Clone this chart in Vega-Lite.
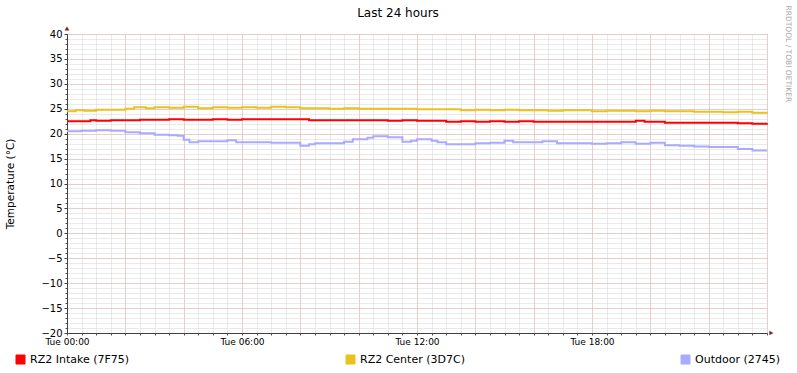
{
  "$schema": "https://vega.github.io/schema/vega-lite/v6.json",
  "width": 700,
  "height": 299,
  "autosize": {"type": "none"},
  "padding": {"left": 67, "top": 34, "right": 30, "bottom": 40},
  "background": "#ffffff",
  "config": {"font": "DejaVu Sans", "view": {"stroke": null}},
  "title": {"text": "Last 24 hours", "fontSize": 12, "fontWeight": "normal", "color": "#000000", "anchor": "middle", "dx": -19, "offset": -15},
  "datasets": {
    "temps": [
      {"h": 0, "s": "RZ2 Intake (7F75)", "v": 22.5},
      {"h": 0.8, "s": "RZ2 Intake (7F75)", "v": 22.7},
      {"h": 1.0, "s": "RZ2 Intake (7F75)", "v": 22.6},
      {"h": 1.5, "s": "RZ2 Intake (7F75)", "v": 22.7},
      {"h": 2.5, "s": "RZ2 Intake (7F75)", "v": 22.8},
      {"h": 3.5, "s": "RZ2 Intake (7F75)", "v": 22.9},
      {"h": 4.0, "s": "RZ2 Intake (7F75)", "v": 22.8},
      {"h": 5.0, "s": "RZ2 Intake (7F75)", "v": 22.9},
      {"h": 5.5, "s": "RZ2 Intake (7F75)", "v": 22.8},
      {"h": 6.0, "s": "RZ2 Intake (7F75)", "v": 22.9},
      {"h": 8.3, "s": "RZ2 Intake (7F75)", "v": 22.7},
      {"h": 11.0, "s": "RZ2 Intake (7F75)", "v": 22.6},
      {"h": 11.5, "s": "RZ2 Intake (7F75)", "v": 22.7},
      {"h": 12.0, "s": "RZ2 Intake (7F75)", "v": 22.6},
      {"h": 13.0, "s": "RZ2 Intake (7F75)", "v": 22.4},
      {"h": 13.5, "s": "RZ2 Intake (7F75)", "v": 22.5},
      {"h": 14.0, "s": "RZ2 Intake (7F75)", "v": 22.4},
      {"h": 14.5, "s": "RZ2 Intake (7F75)", "v": 22.5},
      {"h": 15.0, "s": "RZ2 Intake (7F75)", "v": 22.4},
      {"h": 15.5, "s": "RZ2 Intake (7F75)", "v": 22.5},
      {"h": 16.0, "s": "RZ2 Intake (7F75)", "v": 22.4},
      {"h": 19.5, "s": "RZ2 Intake (7F75)", "v": 22.6},
      {"h": 19.8, "s": "RZ2 Intake (7F75)", "v": 22.4},
      {"h": 20.5, "s": "RZ2 Intake (7F75)", "v": 22.2},
      {"h": 23.0, "s": "RZ2 Intake (7F75)", "v": 22.1},
      {"h": 23.5, "s": "RZ2 Intake (7F75)", "v": 22.0},
      {"h": 24.0, "s": "RZ2 Intake (7F75)", "v": 22.1},
      {"h": 0, "s": "RZ2 Center (3D7C)", "v": 24.5},
      {"h": 0.3, "s": "RZ2 Center (3D7C)", "v": 24.7},
      {"h": 0.6, "s": "RZ2 Center (3D7C)", "v": 24.6},
      {"h": 1.0, "s": "RZ2 Center (3D7C)", "v": 24.8},
      {"h": 2.0, "s": "RZ2 Center (3D7C)", "v": 25.0},
      {"h": 2.3, "s": "RZ2 Center (3D7C)", "v": 25.3},
      {"h": 2.7, "s": "RZ2 Center (3D7C)", "v": 25.1},
      {"h": 3.0, "s": "RZ2 Center (3D7C)", "v": 25.3},
      {"h": 3.5, "s": "RZ2 Center (3D7C)", "v": 25.2},
      {"h": 4.0, "s": "RZ2 Center (3D7C)", "v": 25.4},
      {"h": 4.5, "s": "RZ2 Center (3D7C)", "v": 25.1},
      {"h": 5.0, "s": "RZ2 Center (3D7C)", "v": 25.3},
      {"h": 5.5, "s": "RZ2 Center (3D7C)", "v": 25.2},
      {"h": 6.0, "s": "RZ2 Center (3D7C)", "v": 25.3},
      {"h": 6.5, "s": "RZ2 Center (3D7C)", "v": 25.2},
      {"h": 7.0, "s": "RZ2 Center (3D7C)", "v": 25.4},
      {"h": 7.5, "s": "RZ2 Center (3D7C)", "v": 25.3},
      {"h": 8.0, "s": "RZ2 Center (3D7C)", "v": 25.1},
      {"h": 9.0, "s": "RZ2 Center (3D7C)", "v": 25.0},
      {"h": 9.5, "s": "RZ2 Center (3D7C)", "v": 25.1},
      {"h": 10.0, "s": "RZ2 Center (3D7C)", "v": 25.0},
      {"h": 12.0, "s": "RZ2 Center (3D7C)", "v": 24.9},
      {"h": 13.5, "s": "RZ2 Center (3D7C)", "v": 24.7},
      {"h": 14.0, "s": "RZ2 Center (3D7C)", "v": 24.8},
      {"h": 14.5, "s": "RZ2 Center (3D7C)", "v": 24.7},
      {"h": 15.0, "s": "RZ2 Center (3D7C)", "v": 24.8},
      {"h": 15.5, "s": "RZ2 Center (3D7C)", "v": 24.7},
      {"h": 16.5, "s": "RZ2 Center (3D7C)", "v": 24.6},
      {"h": 17.0, "s": "RZ2 Center (3D7C)", "v": 24.7},
      {"h": 18.0, "s": "RZ2 Center (3D7C)", "v": 24.5},
      {"h": 18.5, "s": "RZ2 Center (3D7C)", "v": 24.6},
      {"h": 19.5, "s": "RZ2 Center (3D7C)", "v": 24.5},
      {"h": 20.0, "s": "RZ2 Center (3D7C)", "v": 24.6},
      {"h": 20.5, "s": "RZ2 Center (3D7C)", "v": 24.5},
      {"h": 21.5, "s": "RZ2 Center (3D7C)", "v": 24.4},
      {"h": 22.5, "s": "RZ2 Center (3D7C)", "v": 24.3},
      {"h": 23.0, "s": "RZ2 Center (3D7C)", "v": 24.4},
      {"h": 23.5, "s": "RZ2 Center (3D7C)", "v": 24.2},
      {"h": 24.0, "s": "RZ2 Center (3D7C)", "v": 24.3},
      {"h": 0, "s": "Outdoor (2745)", "v": 20.5},
      {"h": 0.5, "s": "Outdoor (2745)", "v": 20.6},
      {"h": 1.0, "s": "Outdoor (2745)", "v": 20.7},
      {"h": 1.5, "s": "Outdoor (2745)", "v": 20.6},
      {"h": 2.0, "s": "Outdoor (2745)", "v": 20.3},
      {"h": 2.5, "s": "Outdoor (2745)", "v": 20.1},
      {"h": 3.0, "s": "Outdoor (2745)", "v": 19.8},
      {"h": 3.5, "s": "Outdoor (2745)", "v": 19.7},
      {"h": 3.8, "s": "Outdoor (2745)", "v": 19.6},
      {"h": 4.0, "s": "Outdoor (2745)", "v": 18.8},
      {"h": 4.2, "s": "Outdoor (2745)", "v": 18.3},
      {"h": 4.5, "s": "Outdoor (2745)", "v": 18.5},
      {"h": 5.5, "s": "Outdoor (2745)", "v": 18.7},
      {"h": 5.8, "s": "Outdoor (2745)", "v": 18.3},
      {"h": 7.0, "s": "Outdoor (2745)", "v": 18.2},
      {"h": 8.0, "s": "Outdoor (2745)", "v": 17.6},
      {"h": 8.3, "s": "Outdoor (2745)", "v": 17.9},
      {"h": 8.5, "s": "Outdoor (2745)", "v": 18.1},
      {"h": 9.5, "s": "Outdoor (2745)", "v": 18.4},
      {"h": 9.8, "s": "Outdoor (2745)", "v": 18.9},
      {"h": 10.3, "s": "Outdoor (2745)", "v": 19.2},
      {"h": 10.5, "s": "Outdoor (2745)", "v": 19.5},
      {"h": 11.0, "s": "Outdoor (2745)", "v": 19.3},
      {"h": 11.5, "s": "Outdoor (2745)", "v": 18.4},
      {"h": 11.8, "s": "Outdoor (2745)", "v": 18.6},
      {"h": 12.0, "s": "Outdoor (2745)", "v": 18.9},
      {"h": 12.5, "s": "Outdoor (2745)", "v": 18.6},
      {"h": 12.7, "s": "Outdoor (2745)", "v": 18.3},
      {"h": 13.0, "s": "Outdoor (2745)", "v": 17.9},
      {"h": 14.0, "s": "Outdoor (2745)", "v": 18.1},
      {"h": 14.5, "s": "Outdoor (2745)", "v": 18.2},
      {"h": 15.0, "s": "Outdoor (2745)", "v": 18.6},
      {"h": 15.3, "s": "Outdoor (2745)", "v": 18.3},
      {"h": 16.3, "s": "Outdoor (2745)", "v": 18.5},
      {"h": 16.8, "s": "Outdoor (2745)", "v": 18.1},
      {"h": 18.0, "s": "Outdoor (2745)", "v": 18.0},
      {"h": 18.5, "s": "Outdoor (2745)", "v": 18.1},
      {"h": 19.0, "s": "Outdoor (2745)", "v": 18.3},
      {"h": 19.5, "s": "Outdoor (2745)", "v": 18.0},
      {"h": 20.0, "s": "Outdoor (2745)", "v": 18.2},
      {"h": 20.5, "s": "Outdoor (2745)", "v": 17.7},
      {"h": 21.0, "s": "Outdoor (2745)", "v": 17.6},
      {"h": 21.5, "s": "Outdoor (2745)", "v": 17.4},
      {"h": 22.0, "s": "Outdoor (2745)", "v": 17.3},
      {"h": 23.0, "s": "Outdoor (2745)", "v": 16.9},
      {"h": 23.5, "s": "Outdoor (2745)", "v": 16.6},
      {"h": 24.0, "s": "Outdoor (2745)", "v": 16.6}
    ]
  },
  "resolve": {"axis": {"x": "independent", "y": "independent"}},
  "layer": [
    {
      "data": {"name": "temps"},
      "mark": {"type": "point", "opacity": 0},
      "encoding": {
        "x": {"field": "h", "type": "quantitative", "scale": {"domain": [0, 24], "nice": false, "zero": false},
          "axis": {"orient": "bottom", "tickCount": 48, "grid": true, "gridColor": "#D4D4D4", "gridOpacity": 1, "gridDash": [1, 1], "labels": false, "ticks": true, "tickSize": 2, "tickColor": "#555555", "domain": false, "title": null}},
        "y": {"field": "v", "type": "quantitative", "scale": {"domain": [-20, 40], "nice": false, "zero": false},
          "axis": {"orient": "left", "tickCount": 60, "grid": true, "gridColor": "#D4D4D4", "gridOpacity": 1, "gridDash": [1, 1], "labels": false, "ticks": true, "tickSize": 2, "tickColor": "#555555", "domain": false, "title": null}}
      }
    },
    {
      "data": {"name": "temps"},
      "mark": {"type": "point", "opacity": 0},
      "encoding": {
        "x": {"field": "h", "type": "quantitative",
          "axis": {"orient": "bottom", "tickCount": 12, "grid": true, "gridColor": "#E8B0B0", "gridOpacity": 1, "gridDash": [1, 1], "labels": false, "ticks": false, "domain": false, "title": null}},
        "y": {"field": "v", "type": "quantitative",
          "axis": {"orient": "right", "tickCount": 12, "grid": true, "gridColor": "#E8B0B0", "gridOpacity": 1, "gridDash": [1, 1], "labels": false, "ticks": false, "domain": false,
            "title": "RRDTOOL / TOBI OETIKER", "titleAngle": 90, "titleColor": "#A8A8A8", "titleFontSize": 7.5, "titleFontWeight": "normal", "titleAlign": "left", "titleBaseline": "middle", "titleX": 20, "titleY": -29}}
      }
    },
    {
      "data": {"name": "temps"},
      "mark": {"type": "line", "interpolate": "step-after", "strokeWidth": 2},
      "encoding": {
        "x": {"field": "h", "type": "quantitative",
          "axis": {"orient": "bottom", "values": [0, 6, 12, 18], "labelExpr": "'Tue ' + (datum.value < 10 ? '0' : '') + datum.value + ':00'", "grid": false, "ticks": false, "domain": true, "domainColor": "#404040", "labelFontSize": 9, "labelColor": "#000000", "labelPadding": 4, "labelFlush": false, "labelOverlap": false, "title": null}},
        "y": {"field": "v", "type": "quantitative",
          "axis": {"orient": "left", "values": [-20, -15, -10, -5, 0, 5, 10, 15, 20, 25, 30, 35, 40], "grid": false, "ticks": true, "tickSize": 3, "tickColor": "#404040", "domain": true, "domainColor": "#404040", "labelFontSize": 10, "labelColor": "#000000", "labelPadding": 2, "labelOverlap": false,
            "title": "Temperature (°C)", "titleFontSize": 10.5, "titleFontWeight": "normal", "titleColor": "#000000", "titlePadding": 25}},
        "color": {"field": "s", "type": "nominal",
          "scale": {"domain": ["RZ2 Intake (7F75)", "RZ2 Center (3D7C)", "Outdoor (2745)"], "range": ["#FF0000", "#EBC11D", "#AAAAFF"]},
          "legend": {"orient": "none", "legendX": -52, "legendY": 320, "direction": "horizontal", "title": null, "symbolType": "square", "symbolSize": 81, "labelFontSize": 11, "labelColor": "#000000", "columnPadding": 214, "labelOffset": 4, "padding": 0,
            "encode": {"symbols": {"update": {"fill": {"scale": "color", "field": "value"}, "stroke": {"value": "#222222"}, "strokeWidth": {"value": 1}, "opacity": {"value": 1}}}}}}
      }
    },
    {
      "data": {"values": [{"h": 24.15, "v": -20}]},
      "mark": {"type": "point", "shape": "triangle-right", "filled": true, "size": 22, "color": "#7F1F1F", "opacity": 1},
      "encoding": {
        "x": {"field": "h", "type": "quantitative", "axis": null},
        "y": {"field": "v", "type": "quantitative", "axis": null}
      }
    },
    {
      "data": {"values": [{"h": 0, "v": 41.1}]},
      "mark": {"type": "point", "shape": "triangle-up", "filled": true, "size": 22, "color": "#7F1F1F", "opacity": 1},
      "encoding": {
        "x": {"field": "h", "type": "quantitative", "axis": null},
        "y": {"field": "v", "type": "quantitative", "axis": null}
      }
    }
  ]
}
